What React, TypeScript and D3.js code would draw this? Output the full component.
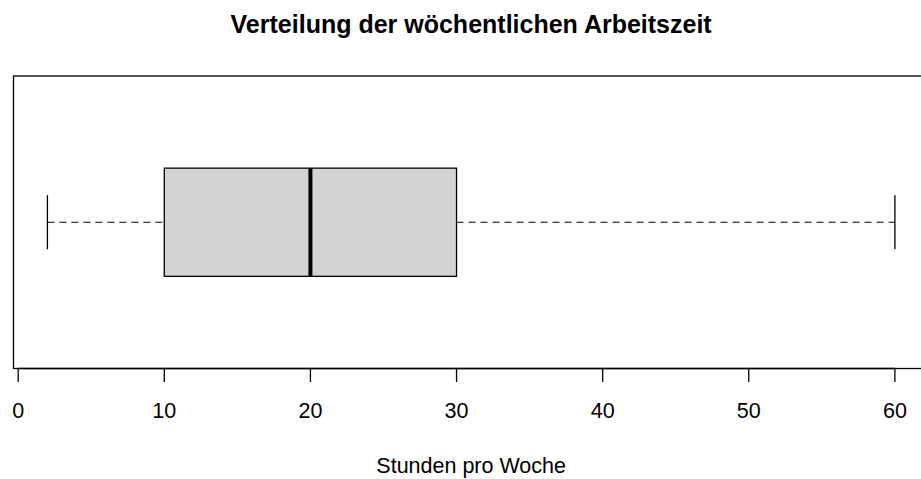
import React from "react";
import * as d3 from "d3";

const title = "Verteilung der wöchentlichen Arbeitszeit";
const xLabel = "Stunden pro Woche";
const tickValues = [0, 10, 20, 30, 40, 50, 60];
// five-number summary: min, Q1, median, Q3, max
const statLabels = ["min", "q1", "median", "q3", "max"];
const statValues = [2, 10, 20, 30, 60];

const W = 921;
const H = 479;

export default function App() {
  const [mn, q1, med, q3, mx] = statValues;
  const pad = (mx - mn) * 0.04;
  const x = d3.scaleLinear().domain([mn - pad, mx + pad]).range([13.5, 928.8]);
  const y = d3.scaleLinear().domain([0.5, 1.5]).range([368.5, 76]);
  const boxHalf = 0.185;
  const capHalf = boxHalf / 2;
  const cy = y(1);
  const cx = (x.range()[0] + x.range()[1]) / 2;
  const font = "'Liberation Sans', Arial, Helvetica, sans-serif";
  return (
    <svg width={W} height={H} style={{ position: "absolute", left: 0, top: 0, background: "#fff" }} fontFamily={font}>
      <text x={cx} y={33} textAnchor="middle" fontWeight="bold" fontSize={25} fill="#000">{title}</text>
      {/* whiskers */}
      <line x1={x(mn)} x2={x(q1)} y1={cy} y2={cy} stroke="#000" strokeWidth={1} strokeDasharray="7,5" />
      <line x1={x(q3)} x2={x(mx)} y1={cy} y2={cy} stroke="#000" strokeWidth={1} strokeDasharray="7,5" />
      <line x1={x(mn)} x2={x(mn)} y1={y(1 - capHalf)} y2={y(1 + capHalf)} stroke="#000" strokeWidth={1.3} />
      <line x1={x(mx)} x2={x(mx)} y1={y(1 - capHalf)} y2={y(1 + capHalf)} stroke="#000" strokeWidth={1.3} />
      {/* box */}
      <rect x={x(q1)} y={y(1 + boxHalf)} width={x(q3) - x(q1)} height={y(1 - boxHalf) - y(1 + boxHalf)} fill="#d3d3d3" stroke="#000" strokeWidth={1.3} />
      <line x1={x(med)} x2={x(med)} y1={y(1 + boxHalf)} y2={y(1 - boxHalf)} stroke="#000" strokeWidth={4} />
      {/* plot frame */}
      <rect x={x.range()[0]} y={y.range()[1]} width={x.range()[1] - x.range()[0]} height={y.range()[0] - y.range()[1]} fill="none" stroke="#000" strokeWidth={1.3} />
      {/* axis */}
      <line x1={x(tickValues[0])} x2={x(tickValues[tickValues.length - 1])} y1={368.5} y2={368.5} stroke="#000" strokeWidth={1.3} />
      {tickValues.map((t) => (
        <g key={t}>
          <line x1={x(t)} x2={x(t)} y1={368.5} y2={382} stroke="#000" strokeWidth={1.3} />
          <text x={x(t)} y={418} textAnchor="middle" fontSize={21.5} fill="#000">{t}</text>
        </g>
      ))}
      <text x={cx} y={473} textAnchor="middle" fontSize={21.5} fill="#000">{xLabel}</text>
    </svg>
  );
}
